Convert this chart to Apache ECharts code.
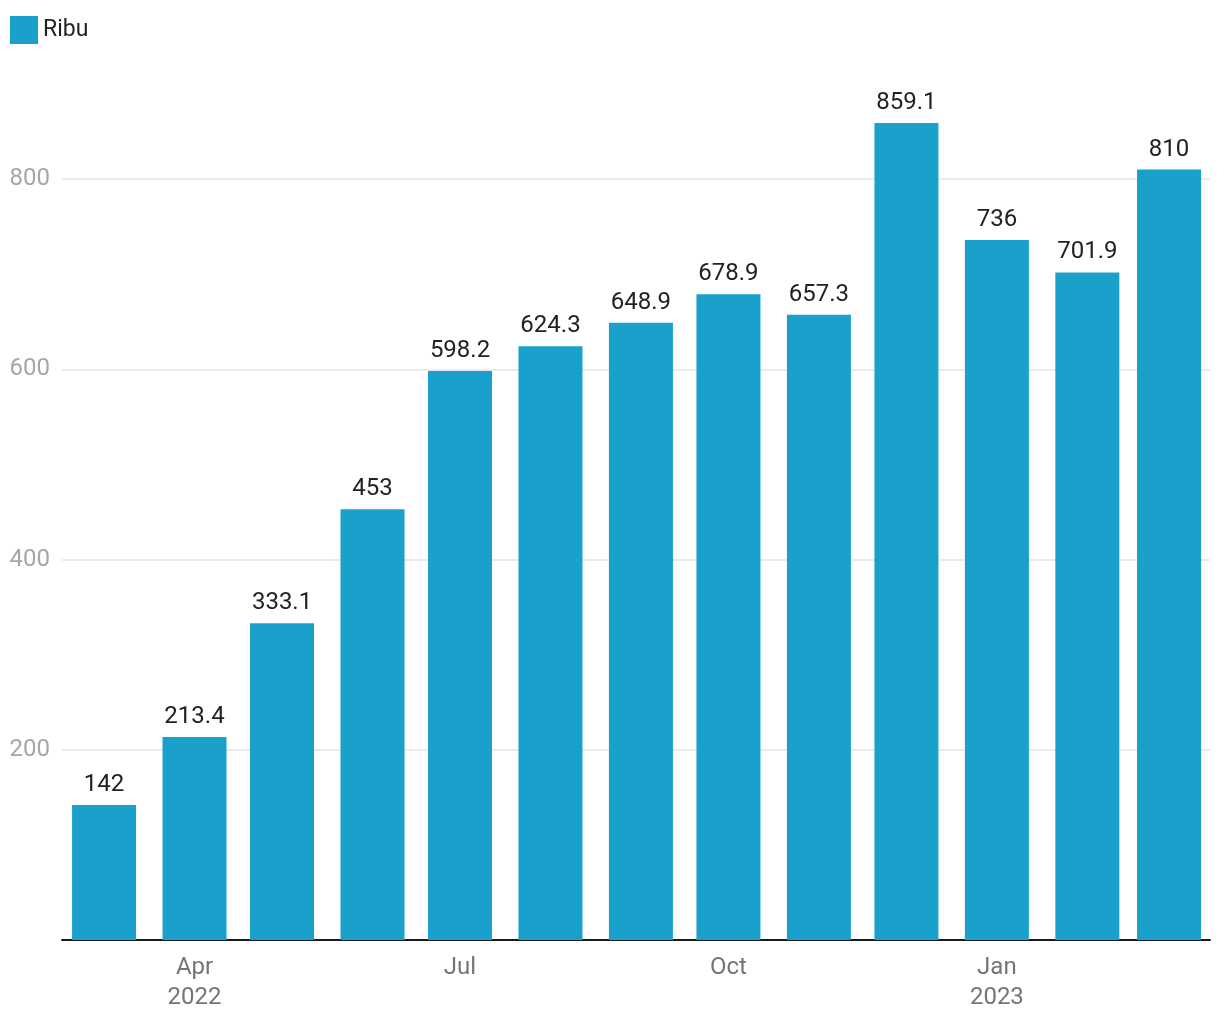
<!DOCTYPE html>
<html>
<head>
<meta charset="utf-8">
<script src="https://cdn.jsdelivr.net/npm/echarts@6/dist/echarts.min.js"></script>
<style>html,body{margin:0;padding:0;background:#fff}#c{width:1220px;height:1020px}</style>
</head>
<body>
<div id="c"></div>
<script>
// Months (year, monthIndex) for each bar
const months = [[2022,2],[2022,3],[2022,4],[2022,5],[2022,6],[2022,7],[2022,8],[2022,9],[2022,10],[2022,11],[2023,0],[2023,1],[2023,2]];
const values = [142, 213.4, 333.1, 453, 598.2, 624.3, 648.9, 678.9, 657.3, 859.1, 736, 701.9, 810];
const seriesName = 'Ribu';
const tickMonths = [[2022,3],[2022,6],[2022,9],[2023,0]];
const tickLabels = ['Apr\n2022', 'Jul', 'Oct', 'Jan\n2023'];

const ts = (y, m, d, h) => Date.UTC(y, m, d || 1, h || 0);
const data = months.map((m, i) => [ts(m[0], m[1]), values[i]]);
const tickValues = tickMonths.map(m => ts(m[0], m[1]));
const labelMap = {};
tickValues.forEach((t, i) => labelMap[t] = tickLabels[i]);

const chart = echarts.init(document.getElementById('c'));
chart.setOption({
  animation: false,
  textStyle: { fontFamily: 'Roboto' },
  legend: {
    show: true, left: 5, top: 11, itemWidth: 28, itemHeight: 28, itemGap: 10,
    icon: 'rect',
    textStyle: { fontSize: 23, color: '#222', fontFamily: 'Roboto' },
    data: [seriesName]
  },
  grid: { left: 62, right: 10, top: 84, bottom: 80, containLabel: false },
  xAxis: {
    type: 'value',
    min: ts(2022, 1, 14, 14),
    max: ts(2023, 2, 15, 1),
    axisLine: { show: true, onZero: false, lineStyle: { color: '#1a1a1a', width: 2 } },
    axisTick: { show: false },
    splitLine: { show: false },
    axisLabel: {
      customValues: tickValues,
      formatter: v => labelMap[v] || '',
      color: '#757575', fontSize: 24, lineHeight: 30, margin: 13,
      fontFamily: 'Roboto'
    }
  },
  yAxis: {
    type: 'value', min: 0, max: 900, interval: 200,
    axisLine: { show: false }, axisTick: { show: false },
    splitLine: { show: true, showMinLine: false, showMaxLine: false, lineStyle: { color: '#e3e3e3', width: 1.5 } },
    axisLabel: {
      showMinLabel: false, showMaxLabel: false,
      formatter: v => (v % 200 === 0 && v > 0) ? String(v) : '',
      color: '#a6a6a6', fontSize: 24, margin: 12, fontFamily: 'Roboto'
    }
  },
  series: [{
    name: seriesName, type: 'bar', data: data, barWidth: 64,
    itemStyle: { color: '#19a1cc' },
    label: { show: true, position: 'top', distance: 8, color: '#222', fontSize: 24, fontFamily: 'Roboto',
      formatter: p => String(p.value[1]) }
  }]
});
</script>
</body>
</html>
